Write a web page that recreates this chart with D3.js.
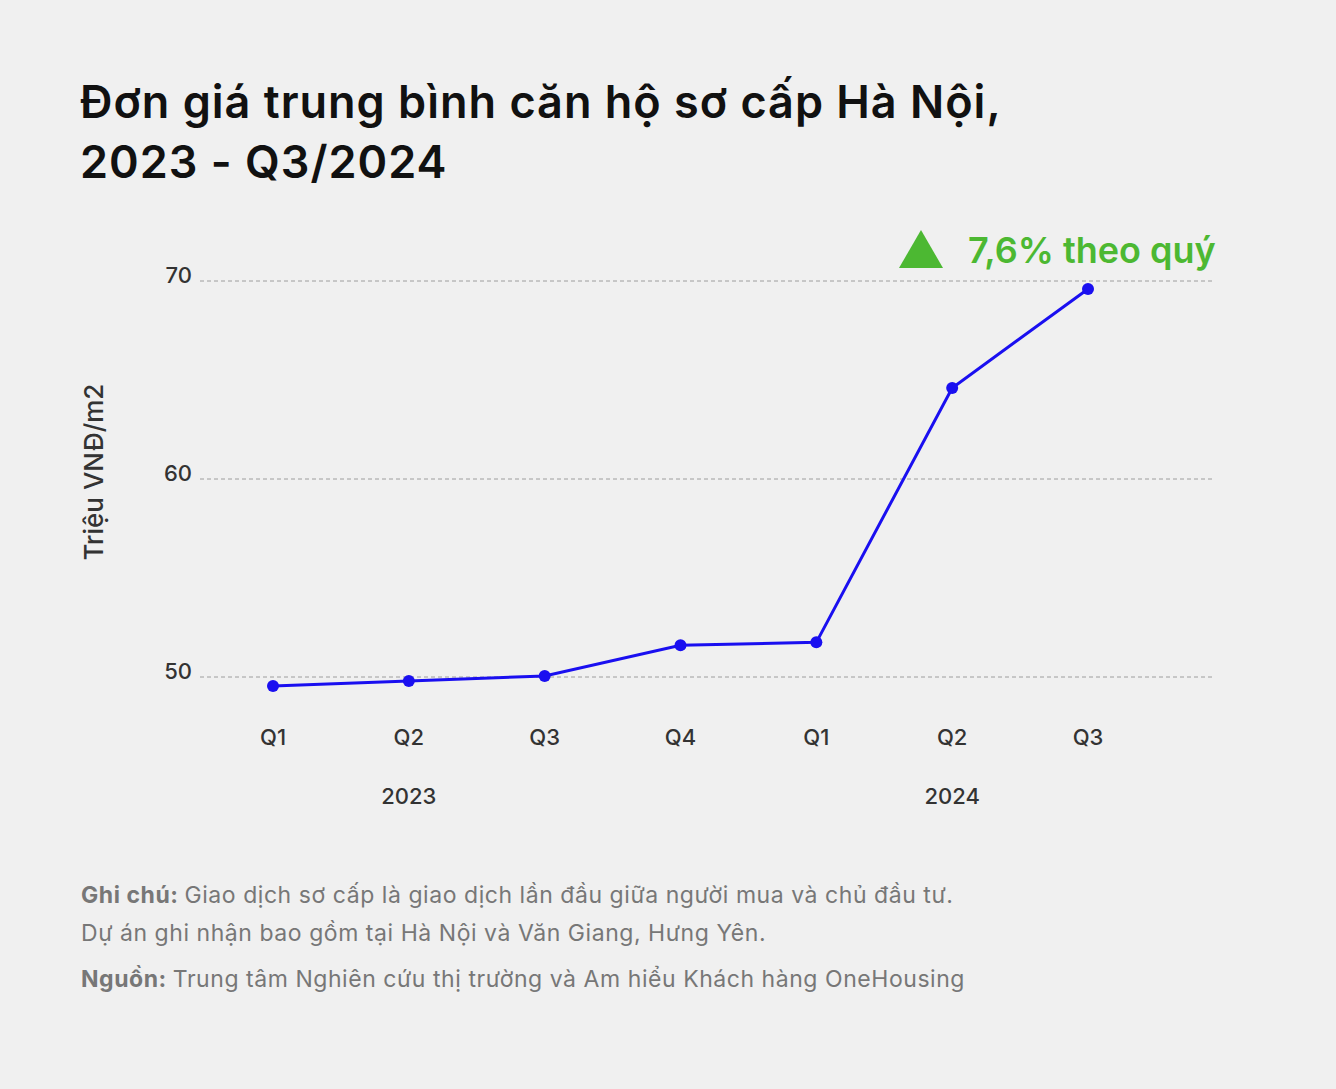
<!DOCTYPE html>
<html><head><meta charset="utf-8">
<script src="https://cdn.jsdelivr.net/npm/d3@7"></script>
<style>
body{margin:0;background:#f0f0f0;font-family:Inter,"Noto Sans",sans-serif;}
</style></head>
<body><svg id="chart" width="1336" height="1089"></svg>
<script>
// data
const quarters = ["Q1","Q2","Q3","Q4","Q1","Q2","Q3"];
const years = [{label:"2023", at:1}, {label:"2024", at:5}];
const prices = [49.55, 49.8, 50.05, 51.6, 51.75, 64.6, 69.6];
const yTicks = [50, 60, 70];

const svg = d3.select("#chart");
svg.append("rect").attr("width",1336).attr("height",1089).attr("fill","#f0f0f0");

const x = d3.scaleLinear().domain([0,6]).range([273,1088]);
const y = d3.scaleLinear().domain([50,70]).range([677,281]);

// title
const title = svg.append("text").attr("x",80).attr("font-size",45).attr("font-weight",600)
  .attr("letter-spacing",1).attr("fill","#111");
title.append("tspan").attr("x",80).attr("y",118).text("Đơn giá trung bình căn hộ sơ cấp Hà Nội,");
title.append("tspan").attr("x",80).attr("y",178).text("2023 - Q3/2024");

// grid
yTicks.forEach(t=>{
  svg.append("line").attr("x1",200).attr("x2",1215).attr("y1",y(t)).attr("y2",y(t))
    .attr("stroke","#888").attr("stroke-dasharray","4,3").attr("stroke-width",0.8);
  svg.append("text").attr("x",192).attr("y",y(t)+2).attr("text-anchor","end")
    .attr("font-size",22).attr("fill","#333").attr("font-weight",500).text(t);
});

svg.append("text").attr("transform","translate(103,472) rotate(-90)").attr("text-anchor","middle")
  .attr("font-size",26).attr("font-weight",500).attr("fill","#333").text("Triệu VNĐ/m2");

// x labels
quarters.forEach((q,i)=>{
  svg.append("text").attr("x",x(i)).attr("y",745).attr("text-anchor","middle")
    .attr("font-size",22).attr("font-weight",500).attr("fill","#333").text(q);
});
years.forEach(yr=>{
  svg.append("text").attr("x",x(yr.at)).attr("y",804).attr("text-anchor","middle")
    .attr("font-size",22).attr("font-weight",500).attr("fill","#333").text(yr.label);
});

// line
const line = d3.line().x((d,i)=>x(i)).y(d=>y(d));
svg.append("path").datum(prices).attr("d",line).attr("fill","none")
  .attr("stroke","#1a0ff0").attr("stroke-width",3);
svg.selectAll("circle.pt").data(prices).join("circle").attr("class","pt")
  .attr("cx",(d,i)=>x(i)).attr("cy",d=>y(d)).attr("r",6).attr("fill","#1a0ff0");

// annotation
svg.append("path").attr("d","M899,268 L943,268 L921,230 Z").attr("fill","#4cb832");
svg.append("text").attr("x",968).attr("y",263).attr("font-size",36).attr("font-weight",600)
  .attr("fill","#4cb832").text("7,6% theo quý");

// notes
const n1 = svg.append("text").attr("x",81).attr("y",903).attr("font-size",23).attr("letter-spacing",0.55).attr("fill","#777");
n1.append("tspan").attr("font-weight",700).text("Ghi chú: ");
n1.append("tspan").text("Giao dịch sơ cấp là giao dịch lần đầu giữa người mua và chủ đầu tư.");
svg.append("text").attr("x",81).attr("y",941).attr("font-size",23).attr("letter-spacing",0.55).attr("fill","#777")
  .text("Dự án ghi nhận bao gồm tại Hà Nội và Văn Giang, Hưng Yên.");
const n2 = svg.append("text").attr("x",81).attr("y",987).attr("font-size",23).attr("letter-spacing",0.55).attr("fill","#777");
n2.append("tspan").attr("font-weight",700).text("Nguồn: ");
n2.append("tspan").text("Trung tâm Nghiên cứu thị trường và Am hiểu Khách hàng OneHousing");
</script></body></html>
